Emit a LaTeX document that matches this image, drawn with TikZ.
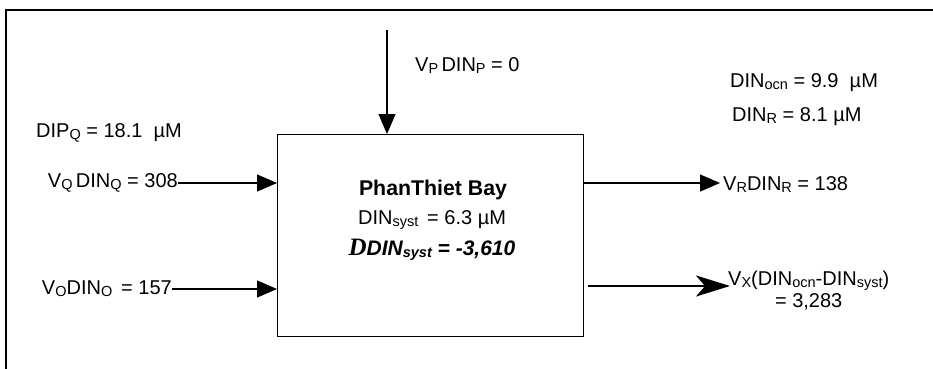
\documentclass[tikz,border=0pt]{standalone}
\usepackage{fontspec}
\setmainfont{Liberation Sans}
\newfontfamily\serifD{Liberation Serif}
\usetikzlibrary{arrows.meta}
\newcommand{\sbs}[1]{\raisebox{-2pt}{\fontsize{14.5}{14.5}\selectfont #1}}
\tikzset{
  lbl/.style={inner sep=0pt, font=\fontsize{20}{22}\selectfont},
  flow/.style={line width=1.2pt, -{Triangle[length=20pt,width=17pt]}},
  bigflow/.style={line width=2.6pt, -{Stealth[length=34pt,width=21pt,inset=9pt]}},
}
\begin{document}
\begin{tikzpicture}[x=1pt,y=-1pt]
\useasboundingbox (0,0) rectangle (933,368);
% outer frame (extends beyond the picture)
\draw[line width=1.5pt] (6,372) -- (6,10) -- (940,10);
% system box
\node[draw, line width=1.2pt, minimum width=306pt, minimum height=202pt, inner sep=0pt, anchor=north west] (bay) at (277,134) {};
\node[lbl, font=\fontsize{21.3}{22}\selectfont\bfseries] (title) at (433,190) {PhanThiet Bay};
\node[lbl] (dsyst) at (432,220) {DIN\sbs{syst}\, = 6.3 µM};
\node[lbl, font=\fontsize{21}{22}\selectfont\bfseries\itshape] (delta) at (432,250) {{\serifD\fontsize{25}{25}\selectfont D}DIN\sbs{\bfseries\itshape syst} = -3,610};
% inputs
\node[lbl, anchor=west] (dipq) at (36,133) {DIP\sbs{Q} = 18.1\; µM};
\node[lbl, anchor=east] (vq) at (178,183) {V\sbs{Q}\,DIN\sbs{Q} = 308};
\node[lbl, anchor=east] (vo) at (172,289) {V\sbs{O}DIN\sbs{O}\, = 157};
\node[lbl, anchor=west] (vp) at (415,66) {V\sbs{P}\,DIN\sbs{P} = 0};
\coordinate (ptop) at (387,30);
\draw[flow] (vq.east) -- (bay.west |- vq.east);
\draw[flow] (vo.east) -- (bay.west |- vo.east);
\draw[flow] (ptop) -- (ptop |- bay.north);
% outputs
\node[lbl, anchor=west] (docn) at (730,83) {DIN\sbs{ocn} = 9.9\; µM};
\node[lbl, anchor=west] (dr) at (732,117) {DIN\sbs{R} = 8.1 µM};
\node[lbl, anchor=west] (vr) at (723,185) {V\sbs{R}DIN\sbs{R} = 138};
\node[lbl, anchor=west, align=center] (vx) at (728,291) {V\sbs{X}(DIN\sbs{ocn}-DIN\sbs{syst})\\[0pt]= 3,283};
\coordinate (rend) at (720,183);
\coordinate (xend) at (730,286);
\draw[flow] (bay.east |- rend) -- (rend);
\draw[bigflow] (588,286) -- (xend);
\end{tikzpicture}
\end{document}
